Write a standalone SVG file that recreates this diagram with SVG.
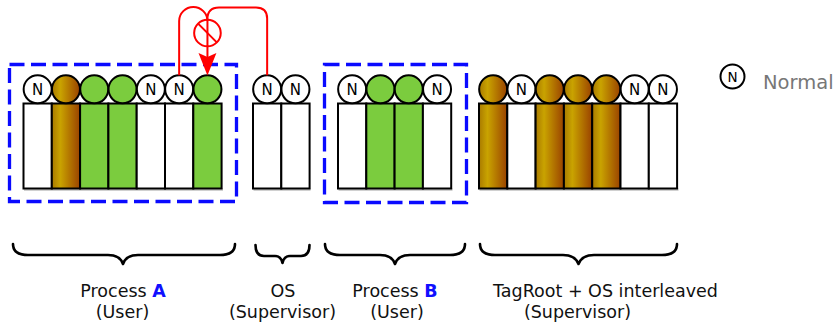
<svg xmlns="http://www.w3.org/2000/svg" width="838" height="323" viewBox="0 0 838 323">
<defs>
<linearGradient id="brown" x1="0" y1="0" x2="1" y2="0">
<stop offset="0" stop-color="#a97a00"/>
<stop offset="0.3" stop-color="#c9a300"/>
<stop offset="1" stop-color="#9a4200"/>
</linearGradient>
<style>
.cell{stroke:#000;stroke-width:2}
.w{fill:#fff}
.g{fill:#7bcc3e}
.b{fill:url(#brown)}
.tag{stroke:#000;stroke-width:2}
.n{font-family:"DejaVu Sans",sans-serif;font-size:15px;text-anchor:middle;fill:#000}
.box{fill:none;stroke:#0a0aff;stroke-width:3.3;stroke-dasharray:15 6.5}
.brace{fill:none;stroke:#000;stroke-width:2.6;stroke-linejoin:round;stroke-linecap:round}
.lbl{font-family:"DejaVu Sans",sans-serif;font-size:17.5px;text-anchor:middle;fill:#111}
.hl{fill:#1010ff;font-weight:bold}
.red{fill:none;stroke:#ff0000;stroke-width:2}
.shadow{fill:#d0d0d0}
</style>
</defs>

<!-- Process A -->
<g id="processA">
<rect class="shadow" x="24" y="188" width="199" height="3"/>
<g id="a1"><rect class="cell w" x="23.5" y="103.5" width="28.3" height="85"/><circle class="tag w" cx="37.65" cy="89.3" r="14"/><text class="n" x="37.65" y="94.7">N</text></g>
<g id="a2"><rect class="cell b" x="51.8" y="103.5" width="28.3" height="85"/><circle class="tag b" cx="65.95" cy="89.3" r="14"/></g>
<g id="a3"><rect class="cell g" x="80.1" y="103.5" width="28.3" height="85"/><circle class="tag g" cx="94.25" cy="89.3" r="14"/></g>
<g id="a4"><rect class="cell g" x="108.4" y="103.5" width="28.3" height="85"/><circle class="tag g" cx="122.55" cy="89.3" r="14"/></g>
<g id="a5"><rect class="cell w" x="136.7" y="103.5" width="28.3" height="85"/><circle class="tag w" cx="150.85" cy="89.3" r="14"/><text class="n" x="150.85" y="94.7">N</text></g>
<g id="a6"><rect class="cell w" x="165" y="103.5" width="28.3" height="85"/><circle class="tag w" cx="179.15" cy="89.3" r="14"/><text class="n" x="179.15" y="94.7">N</text></g>
<g id="a7"><rect class="cell g" x="193.3" y="103.5" width="28.3" height="85"/><circle class="tag g" cx="207.45" cy="89.3" r="14"/></g>
<rect class="box" x="9.5" y="64.5" width="227" height="137"/>
</g>

<!-- OS -->
<g id="os">
<rect class="shadow" x="253.5" y="188" width="57" height="3"/>
<g id="os1"><rect class="cell w" x="253" y="103.5" width="28.3" height="85"/><circle class="tag w" cx="267.15" cy="89.3" r="14"/><text class="n" x="267.15" y="94.7">N</text></g>
<g id="os2"><rect class="cell w" x="281.3" y="103.5" width="28.3" height="85"/><circle class="tag w" cx="295.45" cy="89.3" r="14"/><text class="n" x="295.45" y="94.7">N</text></g>
</g>

<!-- Process B -->
<g id="processB">
<rect class="shadow" x="338.5" y="188" width="114" height="3"/>
<g id="b1"><rect class="cell w" x="338" y="103.5" width="28.3" height="85"/><circle class="tag w" cx="352.15" cy="89.3" r="14"/><text class="n" x="352.15" y="94.7">N</text></g>
<g id="b2"><rect class="cell g" x="366.3" y="103.5" width="28.3" height="85"/><circle class="tag g" cx="380.45" cy="89.3" r="14"/></g>
<g id="b3"><rect class="cell g" x="394.6" y="103.5" width="28.3" height="85"/><circle class="tag g" cx="408.75" cy="89.3" r="14"/></g>
<g id="b4"><rect class="cell w" x="422.9" y="103.5" width="28.3" height="85"/><circle class="tag w" cx="437.05" cy="89.3" r="14"/><text class="n" x="437.05" y="94.7">N</text></g>
<rect class="box" x="324.5" y="64.5" width="142" height="138"/>
</g>

<!-- TagRoot + OS interleaved -->
<g id="tagroot">
<rect class="shadow" x="479.5" y="188" width="199" height="3"/>
<g id="t1"><rect class="cell b" x="479" y="103.5" width="28.3" height="85"/><circle class="tag b" cx="493.15" cy="89.3" r="14"/></g>
<g id="t2"><rect class="cell w" x="507.3" y="103.5" width="28.3" height="85"/><circle class="tag w" cx="521.45" cy="89.3" r="14"/><text class="n" x="521.45" y="94.7">N</text></g>
<g id="t3"><rect class="cell b" x="535.6" y="103.5" width="28.3" height="85"/><circle class="tag b" cx="549.75" cy="89.3" r="14"/></g>
<g id="t4"><rect class="cell b" x="563.9" y="103.5" width="28.3" height="85"/><circle class="tag b" cx="578.05" cy="89.3" r="14"/></g>
<g id="t5"><rect class="cell b" x="592.2" y="103.5" width="28.3" height="85"/><circle class="tag b" cx="606.35" cy="89.3" r="14"/></g>
<g id="t6"><rect class="cell w" x="620.5" y="103.5" width="28.3" height="85"/><circle class="tag w" cx="634.65" cy="89.3" r="14"/><text class="n" x="634.65" y="94.7">N</text></g>
<g id="t7"><rect class="cell w" x="648.8" y="103.5" width="28.3" height="85"/><circle class="tag w" cx="662.95" cy="89.3" r="14"/><text class="n" x="662.95" y="94.7">N</text></g>
</g>

<!-- Legend -->
<g id="legend">
<circle cx="732.5" cy="76.5" r="12" fill="#fff" stroke="#000" stroke-width="2"/>
<text class="n" x="732.5" y="81.5" style="font-size:13.5px">N</text>
<text x="763" y="89" style="font-family:'DejaVu Sans',sans-serif;font-size:19.5px;fill:#777">Normal</text>
</g>

<!-- Connectors -->
<g id="connectors">
<path class="red" d="M179.15,75.3 V21 A14.15,14 0 0 1 207.45,21"/>
<path class="red" d="M267.15,75.3 V18.5 Q267.15,7.5 256,7.5 H219 Q207.45,7.5 207.45,19 V57"/>
<path d="M207.45,75.5 L198.5,53 L207.45,57 L216.4,53 Z" fill="#ff0000"/>
<circle class="red" cx="207.45" cy="33" r="13.3"/>
<line class="red" x1="198.1" y1="23.6" x2="216.8" y2="42.4"/>
</g>

<!-- Braces -->
<g id="braces">
<path class="brace" d="M13,244 Q13,255 28,255 H108 Q120,255 123,264 Q126,255 138,255 H220 Q235,255 235,244"/>
<path class="brace" d="M255.5,245 Q255.5,256 264,256 H275 Q281,256 282.5,263 Q284,256 290,256 H301 Q309.5,256 309.5,245"/>
<path class="brace" d="M325,244 Q325,255 340,255 H380 Q392,255 395,264 Q398,255 410,255 H450 Q465,255 465,244"/>
<path class="brace" d="M480,244 Q480,255 495,255 H563 Q575,255 578.5,264 Q582,255 594,255 H662 Q677,255 677,244"/>
</g>

<!-- Labels -->
<g id="labels">
<text class="lbl" x="123" y="297">Process <tspan class="hl">A</tspan></text>
<text class="lbl" x="122.5" y="318">(User)</text>
<text class="lbl" x="283" y="297">OS</text>
<text class="lbl" x="282.5" y="318">(Supervisor)</text>
<text class="lbl" x="395" y="297">Process <tspan class="hl">B</tspan></text>
<text class="lbl" x="397" y="318">(User)</text>
<text class="lbl" x="605.5" y="297">TagRoot + OS interleaved</text>
<text class="lbl" x="577.5" y="318">(Supervisor)</text>
</g>
</svg>
